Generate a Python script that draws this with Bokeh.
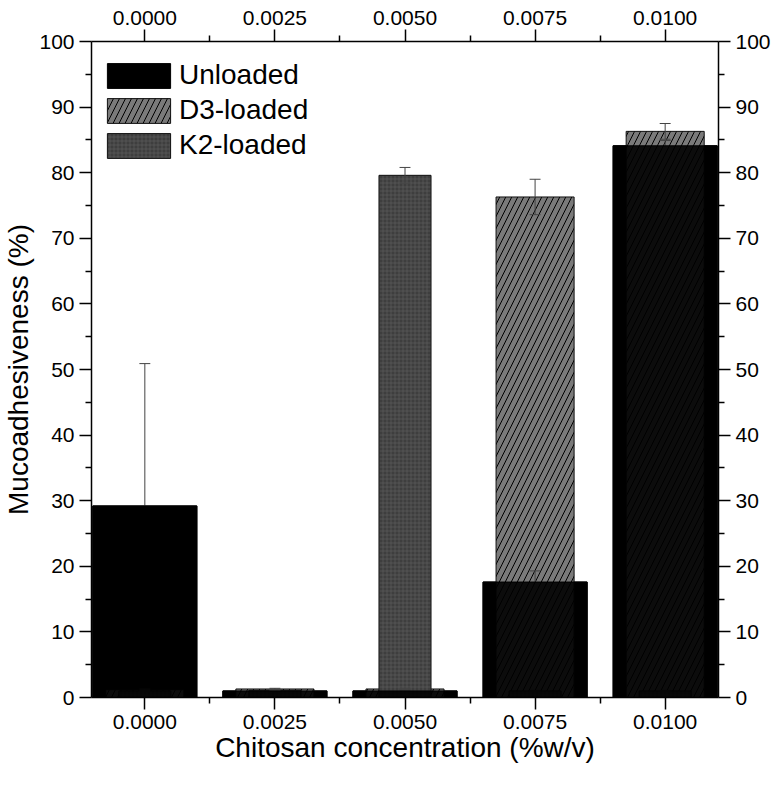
from bokeh.plotting import figure
from bokeh.models import LinearAxis, FixedTicker, Range1d, Legend, LegendItem
from bokeh.embed import file_html
from bokeh.resources import INLINE

# ---- data ----
concentrations = ["0.0000", "0.0025", "0.0050", "0.0075", "0.0100"]
unloaded = [29.2, 1.0, 1.0, 17.6, 84.1]
unloaded_err = [21.7, 0.1, 0.1, 1.7, 0.8]
d3_loaded = [1.2, 1.3, 1.3, 76.3, 86.3]
d3_err = [0.1, 0.1, 0.1, 2.7, 1.2]
k2_loaded = [1.0, 1.1, 79.6, 1.0, 1.0]
k2_err = [0.1, 0.1, 1.2, 0.1, 0.1]
y_ticks = [0, 10, 20, 30, 40, 50, 60, 70, 80, 90, 100]
y_minor = [5, 15, 25, 35, 45, 55, 65, 75, 85, 95]

x = list(range(len(concentrations)))
FONT = "Liberation Sans"

p = figure(frame_width=627, frame_height=656,
           x_range=Range1d(-0.41, 4.41), y_range=Range1d(0, 100),
           output_backend="svg", toolbar_location=None,
           min_border_left=78, min_border_right=44,
           min_border_top=41, min_border_bottom=60,
           x_axis_location="below", y_axis_location="left")
p.xgrid.visible = False
p.ygrid.visible = False
p.outline_line_color = None
p.background_fill_color = "white"
p.border_fill_color = "white"

xticker = FixedTicker(ticks=x, minor_ticks=[0.5, 1.5, 2.5, 3.5])
yticker = FixedTicker(ticks=y_ticks, minor_ticks=y_minor)
labels = {i: c for i, c in enumerate(concentrations)}


def style_axis(ax):
    ax.axis_line_width = 1.5
    ax.axis_line_color = "black"
    ax.major_tick_line_width = 1.5
    ax.minor_tick_line_width = 1.5
    ax.major_tick_line_color = "black"
    ax.minor_tick_line_color = "black"
    ax.major_tick_out = 12
    ax.major_tick_in = 0
    ax.minor_tick_out = 6
    ax.minor_tick_in = 0
    ax.major_label_text_font = FONT
    ax.major_label_text_font_size = "21px"
    ax.major_label_text_color = "black"
    ax.major_label_standoff = 5
    ax.axis_label_text_font = FONT
    ax.axis_label_text_font_size = "28px"
    ax.axis_label_text_font_style = "normal"
    ax.axis_label_text_color = "black"


xb = p.xaxis[0]
xb.ticker = xticker
xb.major_label_overrides = labels
xb.axis_label = "Chitosan concentration (%w/v)"
xb.axis_label_standoff = 0
style_axis(xb)

yl = p.yaxis[0]
yl.ticker = yticker
yl.axis_label = "Mucoadhesiveness (%)"
yl.axis_label_standoff = 2
style_axis(yl)

xt = LinearAxis(ticker=xticker, major_label_overrides=labels)
style_axis(xt)
p.add_layout(xt, "above")

yr = LinearAxis(ticker=yticker)
style_axis(yr)
p.add_layout(yr, "right")

# ---- bars ----
# opaque Unloaded bars at the back
u_back = p.vbar(x=x, top=unloaded, bottom=0, width=0.8, fill_color="black",
                line_color="black", line_width=1)

d3 = p.vbar(x=x, top=d3_loaded, bottom=0, width=0.6, fill_color="#7a7a7a",
            line_color="#111111", line_width=1,
            hatch_pattern="/", hatch_color="black", hatch_scale=12, hatch_weight=1)

k2 = p.vbar(x=x, top=k2_loaded, bottom=0, width=0.4, fill_color="#3e3e3e",
            line_color="#111111", line_width=1,
            hatch_pattern="+", hatch_color="#5e5e5e", hatch_scale=4, hatch_weight=0.6)

# ---- error bars ----
cap = 0.042


def error_bars(vals, errs, lower=True):
    hi = [v + e for v, e in zip(vals, errs)]
    lo = [v - e for v, e in zip(vals, errs)] if lower else list(vals)
    xl = [xi - cap for xi in x]
    xr = [xi + cap for xi in x]
    p.segment(x0=x, y0=lo, x1=x, y1=hi, line_color="#444444", line_width=1)
    p.segment(x0=xl, y0=hi, x1=xr, y1=hi, line_color="#444444", line_width=1)
    if lower:
        p.segment(x0=xl, y0=lo, x1=xr, y1=lo, line_color="#444444", line_width=1)


error_bars(unloaded, unloaded_err, lower=False)
error_bars(d3_loaded, d3_err)
error_bars(k2_loaded, k2_err)

# nearly opaque Unloaded bars in front
p.vbar(x=x, top=unloaded, bottom=0, width=0.8, fill_color="black", fill_alpha=0.9,
       line_color="black", line_width=1)

legend = Legend(items=[
    LegendItem(label="Unloaded", renderers=[u_back]),
    LegendItem(label="D3-loaded", renderers=[d3]),
    LegendItem(label="K2-loaded", renderers=[k2]),
], location="top_left")
legend.title = " "
legend.title_text_font_size = "8px"
legend.title_standoff = 1
legend.glyph_width = 79
legend.glyph_height = 31
legend.label_height = 31
legend.spacing = 3
legend.padding = 5
legend.margin = 3
legend.label_standoff = 1
legend.label_text_font = FONT
legend.label_text_font_size = "28px"
legend.label_text_color = "black"
legend.border_line_alpha = 0
legend.background_fill_alpha = 0
p.add_layout(legend)

open("out.html", "w").write(file_html(p, INLINE))
